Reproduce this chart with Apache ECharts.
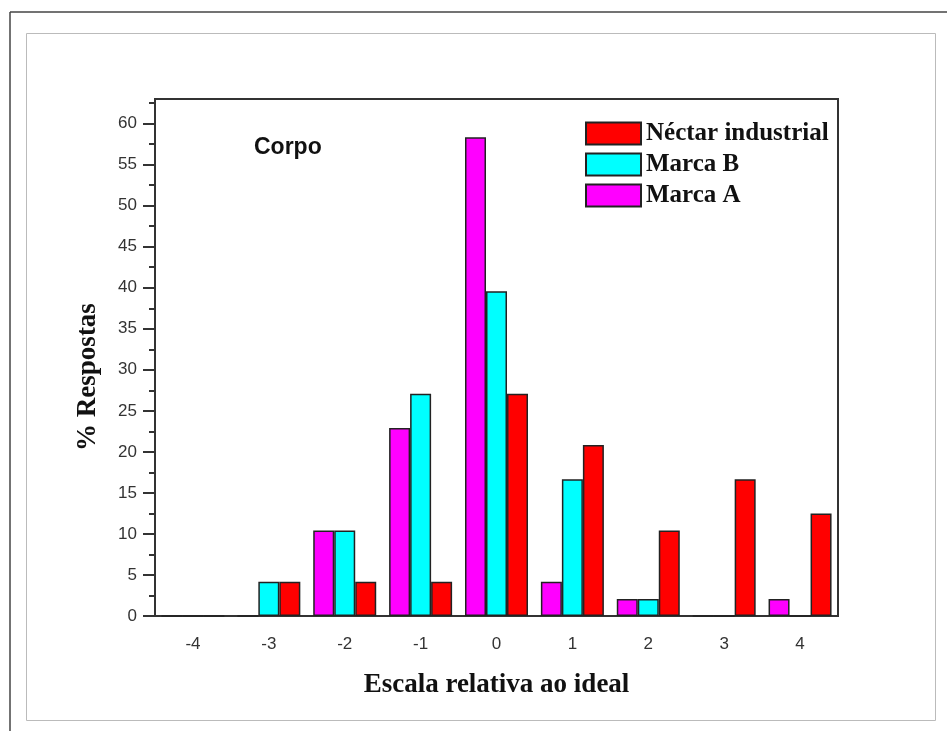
<!DOCTYPE html>
<html>
<head>
<meta charset="utf-8">
<title>Corpo</title>
<script src="https://cdn.jsdelivr.net/npm/echarts@6/dist/echarts.min.js"></script>
<style>
  html, body { margin: 0; padding: 0; background: #fff; }
  #chart { width: 947px; height: 731px; }
</style>
</head>
<body>
<div id="chart"></div>
<script>
// Scale categories (relative to ideal)
const categories = ['-4', '-3', '-2', '-1', '0', '1', '2', '3', '4'];

// % of responses per scale point
const marcaA = [0, 0, 10.42, 22.92, 58.33, 4.17, 2.08, 0, 2.08];
const marcaB = [0, 4.17, 10.42, 27.08, 39.58, 16.67, 2.08, 0, 0];
const nectarIndustrial = [0, 4.17, 4.17, 4.17, 27.08, 20.83, 10.42, 16.67, 12.5];

// Y axis ticks
const yMajorTicks = [0, 5, 10, 15, 20, 25, 30, 35, 40, 45, 50, 55, 60];
const yMinorTicks = [2.5, 7.5, 12.5, 17.5, 22.5, 27.5, 32.5, 37.5, 42.5, 47.5, 52.5, 57.5, 62.5];
const yMax = 63;

const serif = '"Liberation Serif", "Times New Roman", serif';
const sans = '"Liberation Sans", Arial, sans-serif';
const axisColor = '#333';
const barBorder = { borderColor: '#222', borderWidth: 1.5 };

const chart = echarts.init(document.getElementById('chart'), null, { renderer: 'canvas' });

chart.setOption({
  backgroundColor: '#fff',
  animation: false,
  title: {
    text: 'Corpo',
    left: 254,
    top: 136,
    padding: 0,
    textStyle: { fontFamily: sans, fontWeight: 'bold', fontSize: 23, color: '#111' }
  },
  legend: {
    data: ['Néctar industrial', 'Marca B', 'Marca A'],
    orient: 'vertical',
    left: 585,
    top: 121,
    padding: 0,
    itemWidth: 55,
    itemHeight: 22,
    itemGap: 6,
    icon: 'rect',
    selectedMode: false,
    textStyle: { fontFamily: serif, fontWeight: 'bold', fontSize: 25, color: '#111' }
  },
  grid: {
    left: 155,
    top: 99,
    right: 109,
    bottom: 115,
    show: true,
    borderColor: axisColor,
    borderWidth: 2,
    backgroundColor: 'transparent',
    containLabel: false,
    outerBoundsMode: 'none'
  },
  xAxis: [
    {
      type: 'category',
      position: 'bottom',
      data: categories,
      boundaryGap: true,
      name: 'Escala relativa ao ideal',
      nameLocation: 'middle',
      nameGap: 56,
      nameTextStyle: { fontFamily: serif, fontWeight: 'bold', fontSize: 27, color: '#111' },
      axisLine: { lineStyle: { color: axisColor, width: 2 } },
      axisTick: { alignWithLabel: true, length: 10, lineStyle: { color: axisColor, width: 2 } },
      axisLabel: { margin: 20, fontFamily: sans, fontSize: 17, color: '#333' },
      splitLine: { show: false }
    },
    {
      // boundary ticks between categories
      type: 'category',
      position: 'bottom',
      data: categories,
      boundaryGap: true,
      axisLine: { show: false },
      axisTick: { alignWithLabel: false, length: 5, lineStyle: { color: axisColor, width: 2 } },
      axisLabel: { show: false },
      splitLine: { show: false }
    }
  ],
  yAxis: [
    {
      type: 'value',
      position: 'left',
      min: 0,
      max: yMax,
      interval: 5,
      axisLine: { show: true, lineStyle: { color: axisColor, width: 2 } },
      axisTick: { show: true, length: 12, customValues: yMajorTicks, lineStyle: { color: axisColor, width: 2 } },
      axisLabel: { margin: 18, customValues: yMajorTicks, fontFamily: sans, fontSize: 17, color: '#333' },
      splitLine: { show: false }
    },
    {
      type: 'value',
      position: 'left',
      min: 0,
      max: yMax,
      interval: 2.5,
      axisLine: { show: false },
      axisTick: { show: true, length: 6, customValues: yMinorTicks, lineStyle: { color: axisColor, width: 2 } },
      axisLabel: { show: false },
      splitLine: { show: false }
    }
  ],
  series: [
    {
      name: 'Marca A',
      type: 'bar',
      data: marcaA,
      barWidth: 21,
      barGap: '0%',
      itemStyle: Object.assign({ color: '#ff00ff' }, barBorder)
    },
    {
      name: 'Marca B',
      type: 'bar',
      data: marcaB,
      barWidth: 21,
      barGap: '0%',
      itemStyle: Object.assign({ color: '#00ffff' }, barBorder)
    },
    {
      name: 'Néctar industrial',
      type: 'bar',
      data: nectarIndustrial,
      barWidth: 21,
      barGap: '0%',
      itemStyle: Object.assign({ color: '#ff0000' }, barBorder)
    }
  ],
  graphic: [
    {
      type: 'line',
      silent: true,
      shape: { x1: 10, y1: 12, x2: 947, y2: 12 },
      style: { stroke: '#444', lineWidth: 1.5 }
    },
    {
      type: 'line',
      silent: true,
      shape: { x1: 10, y1: 12, x2: 10, y2: 731 },
      style: { stroke: '#444', lineWidth: 1.5 }
    },
    {
      type: 'rect',
      silent: true,
      shape: { x: 26.5, y: 33.5, width: 909, height: 687 },
      style: { fill: 'none', stroke: '#bbb', lineWidth: 1 }
    },
    {
      type: 'text',
      silent: true,
      x: 88,
      y: 377,
      rotation: Math.PI / 2,
      style: {
        text: '% Respostas',
        align: 'center',
        verticalAlign: 'middle',
        fontFamily: serif,
        fontWeight: 'bold',
        fontSize: 27,
        fill: '#111'
      }
    }
  ]
});
</script>
</body>
</html>
